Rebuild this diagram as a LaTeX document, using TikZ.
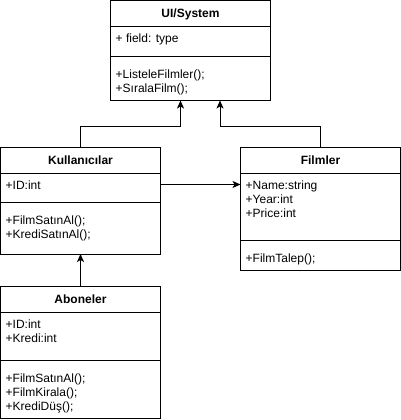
\documentclass[tikz,border=0pt]{standalone}
\usepackage{fontspec}
\setmainfont{Liberation Sans}
\usetikzlibrary{arrows.meta,positioning}

\begin{document}
\begin{tikzpicture}[x=1pt,y=1pt,
  font=\fontsize{12}{14}\selectfont,
  part/.style={draw,line width=1pt,inner sep=0pt,outer sep=0pt,minimum width=160pt},
  ttl/.style={part,minimum height=26pt,text height=8pt,text depth=0pt,font=\fontsize{12}{14}\selectfont\bfseries},
  txt/.style={anchor=north west,inner sep=0pt,align=left},
  arr/.style={-{Stealth[length=8pt,width=7pt,inset=2pt]},line width=1pt}]
\useasboundingbox (0,0) rectangle (401,-420);
% UI/System
\node[ttl,anchor=north west] (ui) at (110.5,-0.5) {UI/System};
\node[part,below=0pt of ui,minimum height=30pt] (uiF) {};
\node[part,below=0pt of uiF,minimum height=44pt] (uiM) {};
\node[txt] (uiFt) at ([shift={(5,-7.3)}]uiF.north west) {+ field: type};
\node[txt] (uiMt) at ([shift={(5,-13.3)}]uiM.north west) {+ListeleFilmler();\\+SıralaFilm();};
% Kullanicilar
\node[ttl,anchor=north west] (kul) at (0.5,-147) {Kullanıcılar};
\node[part,below=0pt of kul,minimum height=29pt] (kulF) {};
\node[part,below=0pt of kulF,minimum height=52pt] (kulM) {};
\node[txt] (kulFt) at ([shift={(5,-7.3)}]kulF.north west) {+ID:int};
\node[txt] (kulMt) at ([shift={(5,-13.3)}]kulM.north west) {+FilmSatınAl();\\+KrediSatınAl();};
% Filmler
\node[ttl,anchor=north west] (film) at (240.5,-147) {Filmler};
\node[part,below=0pt of film,minimum height=67pt] (filmF) {};
\node[part,below=0pt of filmF,minimum height=30pt] (filmM) {};
\node[txt] (filmFt) at ([shift={(5,-7.3)}]filmF.north west) {+Name:string\\+Year:int\\+Price:int};
\node[txt] (filmMt) at ([shift={(5,-13.3)}]filmM.north west) {+FilmTalep();};
% Aboneler
\node[ttl,anchor=north west] (abo) at (0.5,-286) {Aboneler};
\node[part,below=0pt of abo,minimum height=48pt] (aboF) {};
\node[part,below=0pt of aboF,minimum height=58pt] (aboM) {};
\node[txt] (aboFt) at ([shift={(5,-7.3)}]aboF.north west) {+ID:int\\+Kredi:int};
\node[txt] (aboMt) at ([shift={(5,-13.3)}]aboM.north west) {+FilmSatınAl();\\+FilmKirala();\\+KrediDüş();};
% connectors
\draw[arr] (kul.north) -- ++(0,21) -| ([xshift=-10pt]uiM.south);
\draw[arr] (film.north) -- ++(0,21) -| ([xshift=29.5pt]uiM.south);
\draw[arr] ([yshift=3pt]kulF.east) -- ([yshift=3pt]kulF.east -| filmF.west);
\draw[arr] (abo.north) -- (kulM.south);
\end{tikzpicture}
\end{document}
